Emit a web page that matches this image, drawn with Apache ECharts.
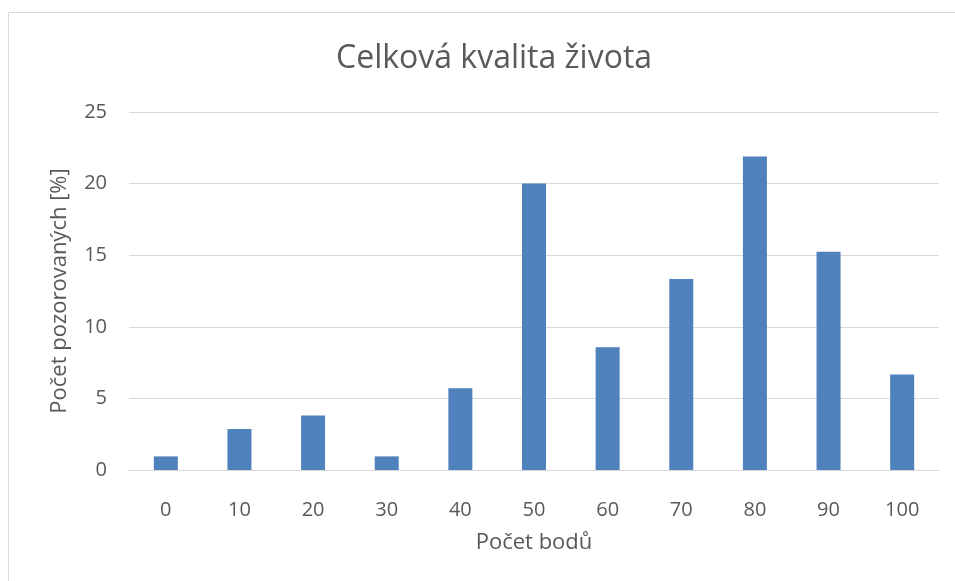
<!DOCTYPE html>
<html>
<head>
    <meta charset="utf-8">
    <title>Celková kvalita života</title>
    <script src="https://cdn.jsdelivr.net/npm/echarts@6/dist/echarts.min.js"></script>
    <style>
        html, body { margin: 0; padding: 0; background: #fff; }
    </style>
</head>
<body>
    <div id="main" style="width: 955px;height:581px;"></div>
    <script type="text/javascript">
        // data (percent of respondents)
        var categories = ['0', '10', '20', '30', '40', '50', '60', '70', '80', '90', '100'];
        var values = [0.95, 2.86, 3.81, 0.95, 5.71, 20.0, 8.57, 13.33, 21.9, 15.24, 6.67];
        var yTicks = [0, 5, 10, 15, 20, 25];

        var textColor = '#595959';
        var font = 'Open Sans';

        var myChart = echarts.init(document.getElementById('main'));
        var option = {
            backgroundColor: '#fff',
            animation: false,
            graphic: [{
                type: 'rect',
                shape: { x: 8.5, y: 12.5, width: 960, height: 600 },
                style: { fill: 'none', stroke: '#d9d9d9', lineWidth: 1 }
            }],
            title: {
                text: 'Celková kvalita života',
                left: 331,
                top: 38,
                textStyle: { color: textColor, fontSize: 32, fontWeight: 'normal', fontFamily: font }
            },
            grid: { left: 129, right: 16, top: 112, bottom: 111 },
            xAxis: {
                type: 'category',
                data: categories,
                name: 'Počet bodů',
                nameLocation: 'middle',
                nameGap: 62,
                nameTextStyle: { color: textColor, fontSize: 22, fontFamily: font },
                axisLine: { lineStyle: { color: '#d9d9d9' } },
                axisTick: { show: false },
                axisLabel: { color: textColor, fontSize: 20, fontFamily: font, margin: 30 }
            },
            yAxis: {
                type: 'value',
                min: yTicks[0],
                max: yTicks[yTicks.length - 1],
                interval: 5,
                name: 'Počet pozorovaných [%]',
                nameLocation: 'middle',
                nameGap: 58,
                nameTextStyle: { color: textColor, fontSize: 22, fontFamily: font },
                axisLine: { show: false },
                axisTick: { show: false },
                splitLine: { lineStyle: { color: '#d9d9d9' } },
                axisLabel: { color: textColor, fontSize: 20, fontFamily: font, margin: 22 }
            },
            series: [{
                type: 'bar',
                data: values,
                barWidth: 24,
                itemStyle: { color: '#4f81bd' }
            }]
        };
        myChart.setOption(option);
    </script>
</body>
</html>
